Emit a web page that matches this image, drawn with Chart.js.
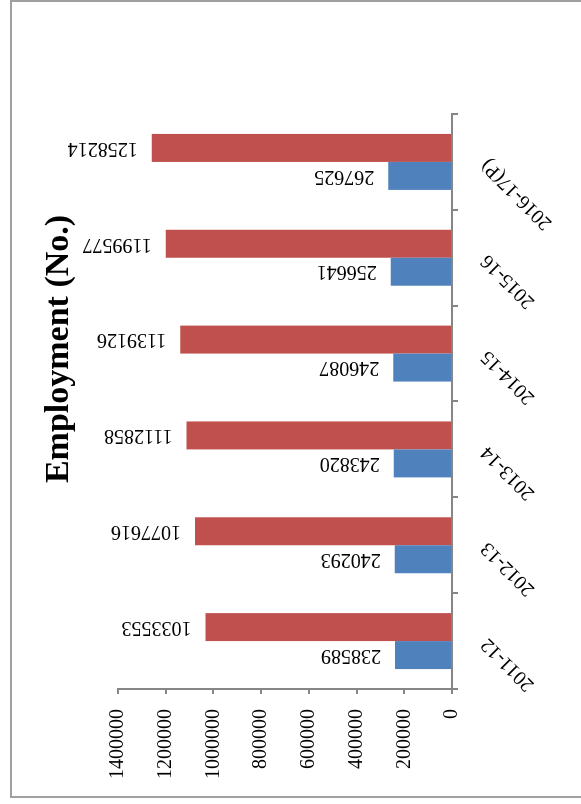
<!DOCTYPE html>
<html>
<head>
<meta charset="utf-8">
<script src="https://cdn.jsdelivr.net/npm/chart.js@4.4.1/dist/chart.umd.min.js"></script>
<style>
  html, body { margin: 0; padding: 0; background: #fff; overflow: hidden; }
  body { width: 581px; height: 804px; position: relative; }
  #frame { position: absolute; left: 10px; top: 0; width: 640px; height: 798px; border: 2px solid #a0a0a0; box-sizing: border-box; }
  /* the chart is drawn upright, then turned a quarter turn counter-clockwise */
  #wrap { position: absolute; left: 0; top: 0; width: 804px; height: 581px; transform-origin: 0 0; transform: translateY(804px) rotate(-90deg); }
</style>
</head>
<body>
<div id="frame"></div>
<div id="wrap"><canvas id="chart" width="804" height="581"></canvas></div>
<script>
const categories = ['2011-12', '2012-13', '2013-14', '2014-15', '2015-16', '2016-17(P)'];
const seriesBlue = [238589, 240293, 243820, 246087, 256641, 267625];
const seriesRed = [1033553, 1077616, 1112858, 1139126, 1199577, 1258214];
const valueTicks = [0, 200000, 400000, 600000, 800000, 1000000, 1200000, 1400000];
const chartTitle = 'Employment (No.)';

const serif = '"Liberation Serif", "Times New Roman", serif';
const axisGray = '#868686';

// --- value labels above each bar, turned to read bottom-to-top ---
const barLabels = {
  id: 'barLabels',
  afterDatasetsDraw(chart) {
    const ctx = chart.ctx;
    ctx.save();
    ctx.font = `20px ${serif}`;
    ctx.fillStyle = '#000';
    ctx.textAlign = 'left';
    ctx.textBaseline = 'middle';
    chart.data.datasets.forEach((ds, i) => {
      chart.getDatasetMeta(i).data.forEach((bar, j) => {
        ctx.save();
        ctx.translate(bar.x, bar.y - 14);
        ctx.rotate(-Math.PI / 2);
        ctx.fillText(String(ds.data[j]), 0, 0);
        ctx.restore();
      });
    });
    ctx.restore();
  }
};

// --- title, placed where the original has it ---
const titleText = {
  id: 'titleText',
  afterDraw(chart) {
    const ctx = chart.ctx;
    ctx.save();
    ctx.font = `bold 34px ${serif}`;
    ctx.fillStyle = '#000';
    ctx.textAlign = 'center';
    ctx.textBaseline = 'alphabetic';
    ctx.fillText(chartTitle, 455, 68);
    ctx.restore();
  }
};

const ctx = document.getElementById('chart').getContext('2d');

new Chart(ctx, {
  type: 'bar',
  data: {
    labels: categories,
    datasets: [
      { label: 'Series 1', data: seriesBlue, backgroundColor: '#4F81BD', borderWidth: 0 },
      { label: 'Series 2', data: seriesRed, backgroundColor: '#C0504D', borderWidth: 0 }
    ]
  },
  options: {
    responsive: false,
    animation: false,
    devicePixelRatio: 1,
    categoryPercentage: 0.584,
    barPercentage: 1.0,
    layout: { padding: { left: 0, right: 114, top: 118, bottom: 0 } },
    plugins: {
      legend: { display: false },
      title: { display: false },
      tooltip: { enabled: false }
    },
    scales: {
      x: {
        offset: true,
        grid: { offset: true, drawOnChartArea: false, drawTicks: true, tickLength: 6, color: axisGray, lineWidth: 2 },
        border: { display: true, color: axisGray, width: 2 },
        ticks: { color: '#000', font: { family: serif, size: 20 }, minRotation: 45, maxRotation: 45, padding: 18 },
        afterFit: (scale) => { scale.height = 129; }
      },
      y: {
        min: 0,
        max: 1400000,
        afterBuildTicks: (scale) => { scale.ticks = valueTicks.map(v => ({ value: v })); },
        grid: { drawOnChartArea: false, drawTicks: true, tickLength: 5, color: axisGray, lineWidth: 2 },
        border: { display: true, color: axisGray, width: 2 },
        ticks: { color: '#000', font: { family: serif, size: 20 }, padding: 15, callback: (v) => String(v) },
        afterFit: (scale) => { scale.width = 115; }
      }
    }
  },
  plugins: [barLabels, titleText]
});
</script>
</body>
</html>
